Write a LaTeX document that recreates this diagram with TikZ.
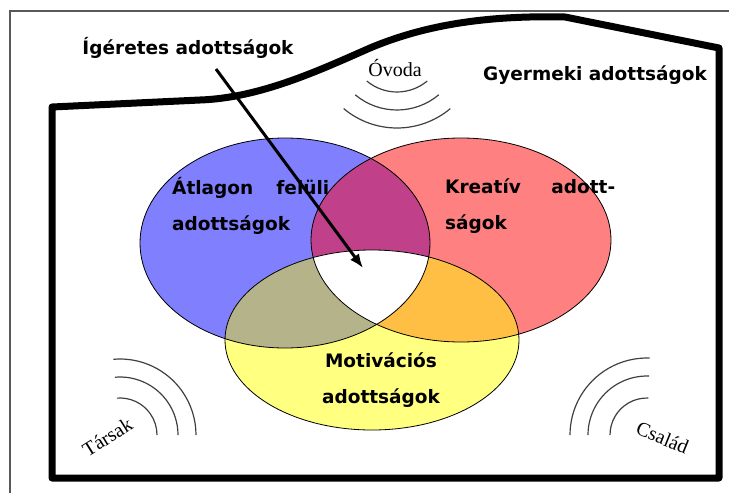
\documentclass[tikz,border=0pt]{standalone}
\usepackage{fontspec}
\setmainfont{Liberation Serif}
\newfontfamily\tagfont{DejaVu Sans}
\usetikzlibrary{arrows.meta}

\definecolor{blueset}{HTML}{8080FF}
\definecolor{redset}{HTML}{FF8080}
\definecolor{yellowset}{HTML}{FFFF80}
\definecolor{blueredset}{HTML}{C0408A}
\definecolor{blueyellowset}{HTML}{B5B38A}
\definecolor{redyellowset}{HTML}{FFBF45}

\tikzset{
	tag/.style={font=\tagfont\bfseries\fontsize{18.5}{36}\selectfont, inner sep=0pt},
	place/.style={font=\fontsize{20}{22}\selectfont, inner sep=0pt, anchor=base},
	wave/.style={line width=1.2pt, draw=black!75},
}

\begin{document}
\begin{tikzpicture}[x=1pt, y=-1pt]
		\useasboundingbox (0,0) rectangle (729,493);
		%scan frame
		\draw[black!65, line width=1.2pt] (10,493) -- (10,11) -- (729,11);
		
		%the three sets
		\fill[blueset] (285,243) ellipse [x radius=145pt, y radius=105pt];
		\fill[redset] (461,240) ellipse [x radius=150pt, y radius=102pt];
		\fill[yellowset] (372,340) ellipse [x radius=147pt, y radius=90pt];
		\begin{scope}
			\clip (285,243) ellipse [x radius=145pt, y radius=105pt];
			\fill[blueredset] (461,240) ellipse [x radius=150pt, y radius=102pt];
			\fill[blueyellowset] (372,340) ellipse [x radius=147pt, y radius=90pt];
		\end{scope}
		\begin{scope}
			\clip (461,240) ellipse [x radius=150pt, y radius=102pt];
			\fill[redyellowset] (372,340) ellipse [x radius=147pt, y radius=90pt];
			\clip (285,243) ellipse [x radius=145pt, y radius=105pt];
			\fill[white] (372,340) ellipse [x radius=147pt, y radius=90pt];
		\end{scope}
		\draw[line width=0.8pt] (285,243) ellipse [x radius=145pt, y radius=105pt];
		\draw[line width=0.8pt] (461,240) ellipse [x radius=150pt, y radius=102pt];
		\draw[line width=0.8pt] (372,340) ellipse [x radius=147pt, y radius=90pt];
		
		%border of the child's gifts
		\draw[line width=7pt, line join=round] (52,107) -- (200,100)
			.. controls (260,98) and (320,70) .. (370,48)
			.. controls (420,27) and (480,15) .. (565,17)
			-- (719,48) -- (719,478) -- (52,478) -- cycle;
		
		%waves
		\foreach \r in {47, 65, 83}{
			\draw[wave] (397,45) ++(230:\r pt) arc (230:310:\r pt);
		}
		\foreach \r in {37, 58, 76}{
			\draw[wave] (120,435) ++(95:\r pt) arc (95:0:\r pt);
		}
		\foreach \r in {37, 59, 77}{
			\draw[wave] (647,435) ++(180:\r pt) arc (180:88:\r pt);
		}
		
		%places
		\node[place] (ovoda) at (395,76) {Óvoda};
		\node[place, rotate=32] (tarsak) at (111,443) {Társak};
		\node[place, rotate=-22] (csalad) at (660,444) {Család};
		
		%gifts
		\node[tag] (igeretes) at (188,48) {Ígéretes adottságok};
		\node[tag] (gyermeki) at (595,75) {Gyermeki adottságok};
		\node[tag, align=left, anchor=west] (atlagon) at (172,206) {\makebox[157pt][s]{Átlagon felüli}\\adottságok};
		\node[tag, align=left, anchor=west] (kreativ) at (445,206) {\makebox[170pt][s]{Kreatív adott-}\\ságok};
		\node[tag, align=center] (motivacios) at (381,380) {Motivációs\\adottságok};
		
		%arrow into the common part
		\coordinate (arrowstart) at (216,69);
		\coordinate (arrowend) at (363,268);
		\draw[-{Latex[length=14pt,width=11pt]}, line width=3pt] (arrowstart) -- (arrowend);
\end{tikzpicture}
\end{document}
